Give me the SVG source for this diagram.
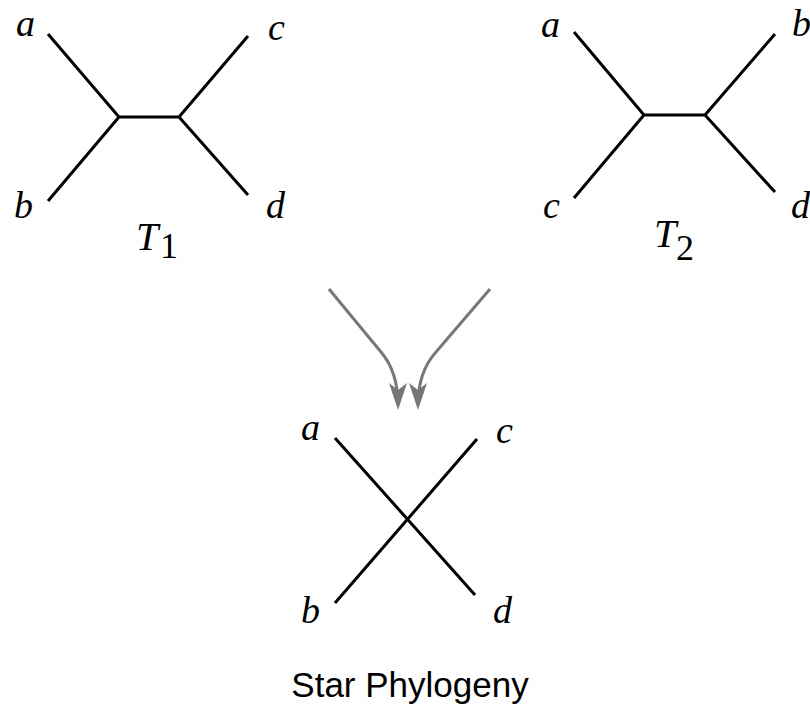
<svg xmlns="http://www.w3.org/2000/svg" width="810" height="721" viewBox="0 0 810 721">
<style>
.e{stroke:#000;stroke-width:3;fill:none;stroke-linecap:butt}
.l{font-size:38px;fill:#000}
.t{font-size:40px;fill:#000}
.s{font-size:36px;fill:#000}
.a{stroke:#777;stroke-width:3;fill:none}
.c{font-size:35px;fill:#000}
</style>
<defs>
<marker id="ah" markerUnits="userSpaceOnUse" markerWidth="28" markerHeight="20" refX="22" refY="10" orient="auto" viewBox="0 0 28 20">
<path d="M0,1 L27,10 L0,19 L7,10 z" fill="#777"/>
</marker>
</defs>
<rect width="810" height="721" fill="#fff"/>
<g id="tree1" font-family="Liberation Serif, serif">
<path class="e" d="M48,34 L119,117 L48,201 M119,117 L179,117 M248,36 L179,117 L248,195"/>
<text class="l" font-style="italic" x="16" y="36">a</text>
<text class="l" font-style="italic" x="14" y="218">b</text>
<text class="l" font-style="italic" x="268" y="40">c</text>
<text class="l" font-style="italic" x="266" y="218">d</text>
<text class="t" font-style="italic" x="136" y="250">T</text>
<text class="s" x="160" y="258">1</text>
</g>
<g id="tree2" font-family="Liberation Serif, serif">
<path class="e" d="M574,32 L644,115 L574,198 M644,115 L705,115 M775,34 L705,115 L775,192"/>
<text class="l" font-style="italic" x="541" y="37">a</text>
<text class="l" font-style="italic" x="792" y="36">b</text>
<text class="l" font-style="italic" x="543" y="218">c</text>
<text class="l" font-style="italic" x="791" y="218">d</text>
<text class="t" font-style="italic" x="654" y="247">T</text>
<text class="s" x="676" y="260">2</text>
</g>
<g id="star" font-family="Liberation Serif, serif">
<path class="e" d="M335,438 L475,595 M477,439 L335,603"/>
<text class="l" font-style="italic" x="301" y="440">a</text>
<text class="l" font-style="italic" x="496" y="443">c</text>
<text class="l" font-style="italic" x="301" y="623">b</text>
<text class="l" font-style="italic" x="493" y="623">d</text>
</g>
<g id="connectors">
<path class="a" d="M329,289 L381,352 Q398,372 398,405" marker-end="url(#ah)"/>
<path class="a" d="M490,289 L436,352 Q418,372 418,405" marker-end="url(#ah)"/>
</g>
<g id="caption" font-family="Liberation Sans, Arial, sans-serif">
<text class="c" x="410" y="697" text-anchor="middle">Star Phylogeny</text>
</g>
</svg>
